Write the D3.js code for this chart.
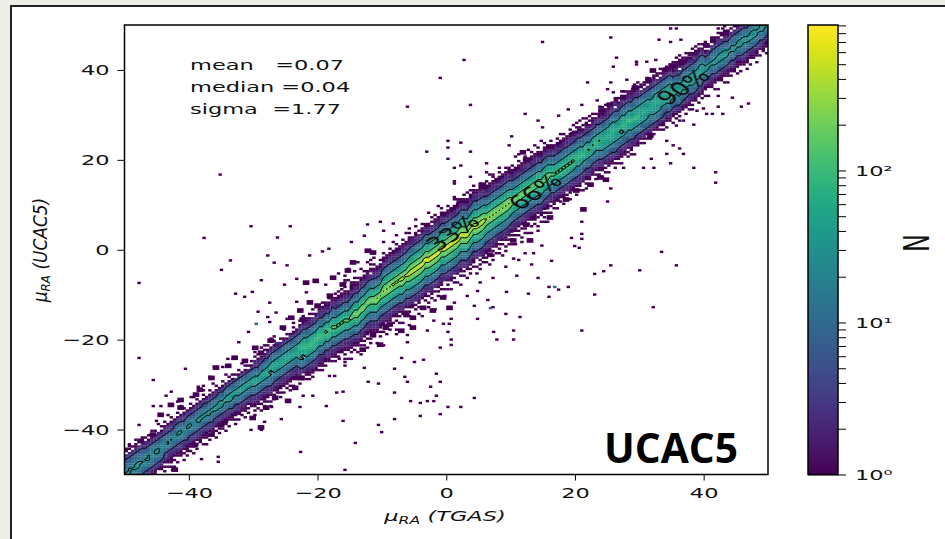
<!DOCTYPE html>
<html>
<head>
<meta charset="utf-8">
<script src="https://cdn.jsdelivr.net/npm/d3@7"></script>
<style>
  html, body { margin: 0; padding: 0; background: #efeee6; }
  svg { display: block; }
  text { font-family: "DejaVu Sans", sans-serif; fill: #111; white-space: pre; }
</style>
</head>
<body>
<script>
// histogram levels, one char per cell: '.' is empty, the rest index into levelCounts
var levelChars = '123456789abcdefg';
var levelCounts = [1, 2, 3, 5, 8, 12, 18, 27, 40, 60, 90, 130, 200, 300, 450, 700];

// one string per 0.5 wide column starting at x = -50. Middle char sits on y = x, each char is 0.5 in y
var bandColumns = [
  // x -50
  "1.1234456778877654432.11.", ".11234556678887655432.1.1",
  "1.1123455677877665432.1..", ".1122345667888765543211.1",
  "..1223445678887654432.1..", "1.1123445667877655432.11.",
  "...123345677877654322.1..", ".1.112345678887654321.1..",
  "...112345677777654321..1.", "1..112344567887654321.1..",
  ".1..12345678887654322...1", "...112345667777654321.1..",
  // x -44
  "..1.1.12334566776543321.1..", "...1.112334578876543321...1",
  "..1.1112334567876543321.1..", ".1..1.12334567776544321....",
  "..1..112334567887654331.1..", "....1112334567887654321...1",
  ".1..1.12334567776543321.1..", "..1.1112344567887654331....",
  "...1.112334567887654321.1..", ".1..1112334567776544321...1",
  "..1.1.12334567887654331.1..", "....1112334568887654321....",
  "..1..112334567887654431.1.1", ".1..1112334567887654321....",
  "..1.1.12334568887654331.1..", "....1112344567887654321...1",
  ".1..1.12334578887654321.1..", "..1.1112334568898765431....",
  "...1.112334578887654331.1..", ".1..1112334567898765431...1",
  "..1..112334568898765431.1..", "....1112345678898765431.1..",
  ".1.1.11233456789876543.1...", "..1..122345678898765431.1..",
  "...1.112345678898765431...1", ".1..1122345678998765431.1..",
  "..1.1.1234567899876543.1...", "....1122345678898765431.1..",
  // x -30
  ".1.1.112234567899987654322.1.1.", "...1.112234567899876543221.1...",
  ".1..1.12234567899987654321...1.", "..1.1112234567899987654421.1.1.",
  "...1.11223456789a9876543221.1..", ".1.1..1223455678 9a987654321...1",
  "..1.1.12234567899a987654331.1.1", "....1112234567899a987654322....",
  ".1.1.112234567899a98765432.1...", "..1..11223456789a9887654321...1",
  "...1.11223456789a988765431.1...", ".1.1.11223456789a9887654331....",
  "..1..11223456789a9887654321.1.1", "....111223456789a9887654321....",
  ".1.1122345678999aa9876543221.1.", "..11.2345678 9aabaa9876543211.1",
  ".1.1123456789aabaa98765433211..", "1.11223456789aabba9876543221.1.",
  ".1.11223456789aabba987654322 1.1", "..11223456789aabba9876543221..1",
  ".1.11223456789abbba98765432211.", "1.11223456789aabba98765433221.1",
  ".1.11223456789abcba98765432211.", "..11223456789abbba98765432211.1",
  ".1.11223456789abcba98765443211.", "1.11223456789abcba98765432211.1",
  ".1.1223456789abcba98765433211.1", "..11223456789abcba98765432211.1",
  // x -16
  "1..1.1.11223456789abcba98765432211.1..1.1", "..1...11223456789abcba98765433211....1...",
  ".1..1.11223456789abccba98765432211.1....", "....1.11223456789abcdcba98765432211.1..1",
  "..1..11223456789abcdcba98765432211.1....", "1...1.11223456789abcdcba98765432211...1.",
  "...1.1.1223456789abcdcba98765433211.1...", ".1...1.11223456789abcdcba98765432211...1.",
  "..1.1..11223456789abcdcba98765432 21.1...", "....1.11223456789abcdcba98765532211.1..1",
  "1....11223456789abcdecba98765432211.....", "..1.1.11223456789abcecba98765433211.1...",
  // x -10
  "...1..11223456789abcdedcba98765432211.1..", ".1...1.1223456789abcdedcba98765432211....",
  "..1.1.11223456789abcdedcba98765433211.1..", "....1..1223456789abcdfdcba98765432211...1",
  "1...1.11223456789abcdfdcba98765432211.1..", "..1..1.1223456789abcdfdcba98765432211....",
  ".1...11223456789abcdefdcba98765433211.1..", "...1.1.1223456789abcdfdcba98765432211...1",
  // x -6
  "..1.1.1223456789abcdefedcba98765432211.1.", "1....11223456789abcdefedcba9876543221....",
  "...1.1.223456789abcdefedcba98765432211..1", ".1..1.11223456789abcdefedcba987654322 1...",
  "..1...1223456789abcdegedcba98765433211.1.", "....1.11223456789abcdegedcba98765432211..",
  "1.1..1.223456789abcdegedcba98765432211...", "...1.11223456789abcdegedcba987654332 1.1.",
  ".1...1.223456789abcdegedcba98765432211.1.", "..1.1.1223456789abcdegedcba98765432211...",
  "....1.11223456789abcdegedcba98765432211.1", "1..1...223456789abcdegedcba98765433211...",
  "..1.1.1223456789abcdegedcba98765432211.1.", ".1...11223456789abcdegedcba98765432211...",
  "...1.1.223456789abcdegedcba98765432211..1", "..1...1223456789abcdegedcba98765433211.1.",
  "1...1.11223456789abcdefedcba98765432211..", "...1.1.223456789abcdefedcba98765433211.1.",
  ".1...1223456789abcdefedcba98765432211....", "..1.1.1223456789abcdefedcba98765432211.1.",
  "....1.11223456789abcdefedcba98765432211.1", "1..1...223456789abcdefedcba98765432211...",
  ".1.1.1.223456789abcdefedcba98765433211.1.", "...1.11223456789abcdefedcba98765432211...",
  // x 6
  "..1.1.11223456789abcdedcba98765432211.1..", "1.....11223456789abcdedcba98765433211...1",
  ".1.1.1.1223456789abcdedcba98765432211.1..", "...1..11223456789abcdedcba98765432211....",
  "..1.1.1.223456789abcdedcba98765433211.1.1", "1....1.1223456789abcdedcba98765432211....",
  ".1.1..11223456789abcdedcba98765432211.1..", "...1.1.1223456789abcdedcba98765432211....",
  // x 10
  "..1.1.1.1223456789abcdcba98765432211.1...", ".1...1.11223456789abcdcba98765433211....1",
  "....1.1.1223456789abcdcba98765432211.1..1", "1.1...1.1223456789abcdcba98765432211.....",
  "...1.1.11223456789abcdcba98765432211.1...", "..1...1.1223456789abcdcba98765433211...1.",
  ".1..1..11223456789abcccba98765432211.1...", "....1.1.1223456789abcccba98765432211...1.",
  "1.1...1.1223456789abcccba98765433211.1...", "...1..11223456789abcccba98765432211....1",
  "..1.1.1.1223456789abcccba98765432211.1...", ".1...1.11223456789abcccba98765432211.....",
  // x 16
  "1..1.1223456789abcba98765432211.1", ".1.11223456789abcba98765433211...",
  "1...1223456789abcba98765432211.1.", "..1.1223456789abcba98765432211..1",
  "1..11223456789abcba98765532211.1.", ".1.1.223456789abcba98765432211...",
  "1..11223456789abcba98765433211.1.", "...11223456789abcba98765432211..1",
  "1.1.12234556789abaa9876544321.1.1", ".1.112234567899abaa987654322 1..1",
  "1...12234556789aba9876544321.1..1", ".1.112234567899aba98765432211.1",
  "1..112234556789aca9876544321.1.1", "...112234567899aca98765432211.1",
  "1.1.12234556789aba9876544321.1.", ".1.112234567899aca98765433211..",
  // x 24
  "1..1122345678899aa998765432211.1", ".1.1.12345678899aa998765432211.1",
  "1..1122345678899aa998765432211..", "...1122345678899aaa998765432211.",
  "1.1.123455678899aa998765543 2211.", ".1.1122345678899aa99876543221 1..",
  "1..11223456789 9aba998765432211.1", "...112234567899aba998765443211.1",
  "1.1.12345567899aba998765432211.", ".1.112234567899aba998765432211..",
  "1...12344567899aba998765543211.1", "...112234567899aba998765432211.1",
  // x 30
  ".1.12345678899a9988765432 11.", "1.122345678899a9988765432 11.",
  ".1.12345678899a9988765432 1.1", "1.122345567889a998765543211.",
  ".1.12345678899a9988765433211", "..112345678899a9988765432 11.",
  ".1.12345678899a9988765432 1.1", "1.112344567889a9988765432111.",
  "1..112345678899a998765432111", "..112345678899a9988765432111.",
  // x 35
  "1..11234567889988765432111.1", ".1.122345677889887654322111.1",
  "1.1.1234567889988765433 2111.1", "..112345677889887654321111.",
  "1..11234567889988765432111.1", ".1.112334567889887654322 11.",
  "1.1.1234567889988765432 11.1", "...11234567889988765433211.1",
  "1..1123456788998876543211.1", ".1.112344567889887654321 1.",
  // x 40
  "..1..112345678887654321 1.1..", ".1...11234567888765432 1....",
  "....1112334567887765432 1.1..", "..1..1123456788876554321 1...",
  ".1...11234567889876543321 1.1", "....1112345678888765432 11...",
  "..1..1123456789887654321 1.1.", ".1..1112345678887654321 1...",
  "..1.112334567888765432 1.1.", "....1122345678987655432 11...",
  ".1..1112345678887654321.1..", "..1..1123456789887654332 11..",
  "....1122345567888765432 11.1.", ".1..1112345678887654321 1...",
  "..1..1123456789887654321 1.1.", "....1122345678888765432 11...",
  ".1..1112345678887655432 11.1.", "..1..1233456788876543211...",
  "....1112345678887654321 1.1.", ".1..11123456789876543211..1"
].map(function (s) { return s.replace(/ /g, '.'); });

// isolated single count bins away from the band, [x, y]
var outliers = [
  [-35.4,16.5],[-37.9,2.4],[-30.6,5],[-24.5,5],[-26.5,2.5],[-33.8,-2.6],[-28,-1.5],[-27,-3.1],[-25,-3.7],[-21.5,-1.5],
  [-19.5,-0.6],[-18.5,0],[-15,1.5],[-13,2.9],[-12.5,5.4],[-10.5,6],[-8.5,5.6],[-10,4],[14.7,46],[2.5,42],
  [-1.2,38],[-6.3,31.6],[3.5,32],[25.3,47],[34.6,49],[35.5,49],[42.7,49],[32.8,46.5],[34.6,46],[36.2,46.5],
  [26.2,42.5],[25.7,40.5],[29.3,41.6],[29.3,41],[30.9,41.6],[32.3,42],[21.7,37],[25.3,37],[27.8,37.6],[24.8,35.5],
  [25.7,34.8],[27.3,35],[28.7,35.5],[30,36],[23.2,33],[26.2,33],[23.6,31.6],[20.8,32],[18.7,31],[17.2,29.6],
  [12,30],[14,28.5],[14.7,27],[9.9,25],[9.5,23],[0,24],[2,23.6],[0,22.5],[-3.3,21.6],[3.5,21.6],
  [0,20],[2,18.5],[1,18],[6,19],[6,17],[9.5,18],[9.5,17],[1,15],[1,14.5],[3.5,16],
  [46.7,32.3],[45.6,31.6],[44.2,33.6],[42,34],[42,31.6],[42.7,30],[41.1,30],[40.2,30],[38.7,30.7],[39.7,31.2],
  [38.2,27.6],[36.6,28.5],[35.5,27.4],[34,24],[35,23],[36,22.3],[36.6,21.1],[34,21.1],[38.2,18],[34.6,19],
  [41.6,17],[41.6,14.7],[32,18],[30.4,18],[31.6,20],[27.3,18],[24.8,10.5],[25.3,13.4],[21.5,13.4],[33.2,-0.7],
  [35.5,-3.7],[25.3,-3.7],[20.8,6],[20.8,3.3],[20.8,2.2],[19.2,2.4],[20.4,0.2],[19.7,0.6],[16.1,-2.7],[12,-1],
  [13.3,-1],[14.6,0.7],[10.2,-2.2],[10.7,-6],[9.1,-9.6],[15.7,-8.5],[17.2,-9.1],[18.7,-8.5],[15.7,-10.7],[22.8,-10.2],
  [22.8,-5.6],[24.2,-5],[29.8,-4.8],[31.9,-13],[20.8,-18.2],[11.2,-15.2],[10.2,-18.2],[7.1,-18.5],[7.6,-20.2],[10.2,-20.2],
  [6.2,-11.4],[4.6,-15.6],[4.1,-12.7],[4.6,-9.4],[0.5,-20.2],[0.5,-21.4],[-1.2,-22],[0,-18.5],[-0.7,-16.7],[0.2,-16.7],
  [0.5,-15.6],[-2.2,-16],[-3.2,-18.2],[-6.3,-19.2],[-6.3,-20.8],[-7.2,-24.3],[-5.2,-25.2],[-3.8,-24.7],[-8.3,-26.7],[-6.7,-28.5],
  [-6.3,-29.6],[-1.8,-27.8],[-1.2,-29.6],[-2.7,-30.7],[-8.3,-32],[-1.8,-32.7],[-5.8,-33.9],[-4.3,-34.3],[-3.2,-33.9],[-2.2,-33.9],
  [4.1,-33.2],[0,-35.2],[2,-35.2],[-1.2,-36.8],[-4.3,-37.2],[-8.3,-37.9],[-10.3,-40.8],[-48,-7.6],[-35.2,-4.7],[-33,-10],
  [-31.6,-10.7],[-30.4,-9.6],[-29,-7],[-25.4,-8],[-23.5,-6.7],[-22,-9.7],[-23.5,-11.8],[-27.7,-12],[-29.5,-14],[-26.7,-14.2],
  [-28,-15.2],[-27.7,-16.3],[-25,-15.6],[-31,-18.5],[-32.5,-20.8],[-48,-24.3],[-40.8,-26.7],[-45.8,-29.2],[-34.2,-24.5],[-33.4,-24.5],
  [-36.3,-26.3],[-35,-26.3],[-12.4,-29.6],[-10.8,-30],[-17.3,-32],[-16.3,-31.8],[-18.9,-35],[-16.3,-38.3],[-10.8,-39.2],[-14.4,-43.2],
  [-22.9,-45.2],[-16,-49.2],[-35.7,-46.3],[-35.7,-47.4],[-38.3,-46.8],[-42.8,-49.2],[-25.9,-37.9],[-28.5,-38.5],[-30.6,-40.3],[-29,-40.3],
  [-27.4,-35.2],[-23,-35.2],[-21,-32.7],[-22.5,-32.7],[-18.4,-28.3],[-17.6,-28.3],[-13,-26.5],[-16,-25.2],[-16.9,-24.5],[-45.8,-35],
  [-44.6,-35],[-43.8,-32.7],[-43,-31.8],[-42,-34],[-48,-39.2],[-45.3,-38.3],[-49.5,-43.9],[-38.8,-30.7],[-38,-30.5],[-39.9,-33],
  [-37,-28.5],[-19,-8],[-17,-5.5],[-15.5,-4.5],[-14,-3],[-12,-2.5],[-16,-7.5],[7,-13],[9,-14.5],[12.5,-10],[14,-6.5],
  [-12,-0.5],[-10,1.5],[-8,3],[-6,4.5],[-5,6.5],[-3,8],[-1.5,9.5],[1,11.5],[3,12.5],[5,14],[7,16.5],[8,15],
  [-6,-17],[-4,-15],[-2,-13.5],[1,-12],[3,-10.5],[5,-7.5],[7,-6.5],[9,-4],[11,-2.5],[13,-3.5],[-8,-19],[-10,-21.5]
];
var blueOutliers = [[16.6,-8.5],[6.6,-13.2],[-29.8,-16.7]];

// purple clumps hugging the band, one unit wide, [x, y]
var fringeClumps = [
  [-12.7,-0.7],[-11.9,-1.1],[-15,-3.3],[-15.8,-5.1],[-18.1,-6.7],[-20.8,-7.4],[-22.3,-7.8],[-16.6,-8.2],[-15,-8.5],[-18.6,-10.7],
  [-21.7,-12.2],[-20.5,-12.9],[-19.2,-13.4],[-23.2,-14],[-24.6,-15.6],[-22.8,-16],[-25.9,-17.8],[-26.7,-21.6],
  [-9.3,-17.1],[-6.7,-14.9],[-5.7,-15.6],[-4.1,-13.4],[-2.6,-14],[-1,-11.1],[0,-13.4],[-7.5,-18.5],[-11.9,-19.4],[-14.5,-20.7],
  [-10.8,-21.6],[-17,-22.9],[-19.7,-24.5],[-13.5,-22.7],[-9.9,-17.8],[-5.7,-17.8],
  [11.4,21.2],[11.9,19.6],[10.7,17.4],[9.9,16.3],[11.1,17.1],[7.5,14.9],[6,12.7],[5.2,14],[3.7,10.7],[2.6,10],
  [1.6,10],[0.5,8.2],[-0.7,7.3],[15.6,22.3],[14,20.5],[17.2,22.7],[19.2,25.2],[20.3,26],[21.2,25.2],[13,18.3],
  [11.9,5.1],[13,6.7],[14.5,8.9],[15.6,6.7],[16.6,10.7],[18.1,10.7],[19.7,12.7],[20.8,8.5],[21.9,14],[23.4,15.6],
  [24.3,15.1],[9.9,1.6],[7.8,2.2],[6.3,-1.6],[5.2,-0.7],[9.4,3.8],[12.5,1.6],
  [34.8,40.5],[35.5,40.8],[36.3,41.2],[33.7,39.6],[37.4,41.9],[38.3,43],[39.9,45],[31.6,39.4],[30.9,37.4],[28.8,35.6],
  [27,33.4],[24.9,31.8],[23.6,30.5],[41,46.3],[43,47.9],
  [31.2,24.9],[33.5,30.5],[34.8,31.6],[27.4,24.1],[29,24.5],[25.4,21.6],[36.3,33],[37.9,34],[32.7,27.8],[30.1,27.2],
  [42.2,40],[44.6,41.6],[46.7,43.9],
  [-37,-29],[-36.3,-26.7],[-34.4,-26.3],[-33.4,-24.5],[-31.8,-25.2],[-30.2,-22.3],[-29.3,-23.4],[-27.8,-20.7],[-39.4,-32.7],[-38.8,-31.6],
  [-41.8,-33.9],[-43.3,-35],[-44.9,-37.2],[-46.1,-41.6],[-48,-43],[-41.8,-35.6],
  [-35.5,-39.4],[-34.9,-38.5],[-32.9,-36.7],[-30.6,-37.9],[-29.3,-40],[-28.5,-35.6],[-27.1,-33.4],[-24,-31.2],[-23.1,-29],[-25.1,-34.1],
  [-37,-41.6],[-39.6,-43.9],[-41,-43.9],[-43.3,-46.1],[-42.7,-49.4]
];

// contour levels in counts, and the colorbar ticks
var contourLevels = [4.5, 24, 100, 280];
var axisTicks = [-40, -20, 0, 20, 40];
var colorDomain = [1, 905];
var cbMajor = [1, 10, 100];
var cbMajorLabels = ['10\u2070', '10\u00b9', '10\u00b2'];
var cbMinor = [2,3,4,5,6,7,8,9,20,30,40,50,60,70,80,90,200,300,400,500,600,700,800,900];
var statLines = ['mean   =0.07', 'median =0.04', 'sigma  =1.77'];
var contourLabels = [
  {label: '33%', x: 1, y: 3.8},
  {label: '66%', x: 13.8, y: 12.9},
  {label: '90%', x: 36.8, y: 36.3}
];

var W = 945, H = 539;
var sx = 1.55; // the source image is stretched sideways, so the text is too

var svg = d3.select('body').append('svg').attr('width', W).attr('height', H);

// page frame
svg.append('rect').attr('x', 11).attr('y', 6).attr('width', W).attr('height', H)
  .attr('fill', '#fff').attr('stroke', '#222').attr('stroke-width', 2);

var xScale = d3.scaleLinear().domain([-50, 50]).range([124.5, 768]);
var yScale = d3.scaleLinear().domain([-50, 50]).range([474.5, 25]);
var color = d3.scaleSequentialLog(d3.interpolateViridis).domain(colorDomain);

svg.append('clipPath').attr('id', 'plot').append('rect')
  .attr('x', 124.5).attr('y', 25).attr('width', 643.5).attr('height', 449.5);

// turn the columns into cells
var cells = [];
fringeClumps.forEach(function (d) { cells.push({x: d[0], y: d[1], n: 1, size: 1, lone: true}); });
outliers.forEach(function (d) { cells.push({x: d[0], y: d[1], n: 1, size: 0.5, lone: true}); });
blueOutliers.forEach(function (d) { cells.push({x: d[0], y: d[1], n: 10, size: 0.5, lone: true}); });
bandColumns.forEach(function (s, i) {
  var x = -50 + i * 0.5, mid = Math.floor(s.length / 2);
  for (var k = 0; k < s.length; k++) {
    var lv = levelChars.indexOf(s[k]);
    if (lv >= 0) cells.push({x: x, y: x + (k - mid) * 0.5, n: levelCounts[lv], size: 0.5});
  }
});

var defs = svg.append('defs');
defs.append('filter').attr('id', 'soft').append('feGaussianBlur').attr('stdDeviation', 0.45);

var plot = svg.append('g').attr('clip-path', 'url(#plot)');

plot.append('g').attr('filter', 'url(#soft)').selectAll('rect')
  .data(cells)
  .enter()
  .append('rect')
  .attr('x', function (d) { return xScale(d.x); })
  .attr('y', function (d) { return yScale(d.y + d.size); })
  .attr('width', function (d) { return xScale(d.size) - xScale(0) + 0.2; })
  .attr('height', function (d) { return yScale(0) - yScale(d.size) + 0.2; })
  .attr('fill', function (d) { return color(d.n); });

// contours come from the same grid
var grid = new Array(200 * 200).fill(0);
cells.forEach(function (d) {
  if (d.lone) return;
  var i = Math.round((d.x + 50) * 2), j = Math.round((d.y + 50) * 2);
  if (i >= 0 && i < 200 && j >= 0 && j < 200) grid[j * 200 + i] = Math.log10(d.n) + 0.001;
});
var contourGen = d3.contours().size([200, 200]).thresholds(contourLevels.map(Math.log10));
var toPlot = d3.geoTransform({
  point: function (px, py) {
    this.stream.point(xScale(-50 + px / 2), yScale(-50 + py / 2));
  }
});
plot.append('g').selectAll('path')
  .data(contourGen(grid))
  .enter()
  .append('path')
  .attr('d', d3.geoPath(toPlot))
  .attr('fill', 'none')
  .attr('stroke', '#000')
  .attr('stroke-width', 1);

// contour labels, rotated then stretched along with the picture
plot.selectAll('.clabel')
  .data(contourLabels)
  .enter()
  .append('text')
  .attr('class', 'clabel')
  .attr('transform', function (d) {
    return 'translate(' + xScale(d.x) + ',' + yScale(d.y) + ') scale(1.45,1) rotate(-44)';
  })
  .attr('text-anchor', 'middle')
  .attr('dy', '0.36em')
  .attr('font-size', 19)
  .text(function (d) { return d.label; });

// axes
function stretchTicks(g, xOffset) {
  g.selectAll('text')
    .attr('x', xOffset === undefined ? 0 : xOffset / sx)
    .attr('transform', 'scale(' + sx + ',1)')
    .attr('font-size', 14.5)
    .style('font-family', '"DejaVu Sans", sans-serif')
    .style('fill', '#111');
}

var xAxis = d3.axisBottom(xScale).tickValues(axisTicks).tickSize(6).tickPadding(7).tickFormat(d3.format('d'));
var yAxis = d3.axisLeft(yScale).tickValues(axisTicks).tickSize(7).tickFormat(d3.format('d'));

svg.append('g').attr('transform', 'translate(0,474.5)').call(xAxis)
  .call(function (g) { stretchTicks(g); g.select('.domain').remove(); });
svg.append('g').attr('transform', 'translate(124.5,0)').call(yAxis)
  .call(function (g) { stretchTicks(g, -15); g.select('.domain').remove(); });

svg.append('rect').attr('x', 124.5).attr('y', 25).attr('width', 643.5).attr('height', 449.5)
  .attr('fill', 'none').attr('stroke', '#000').attr('stroke-width', 1.5);

// axis titles
function mathLabel(sel, name, size) {
  sel.attr('text-anchor', 'middle').attr('font-size', size).attr('font-style', 'italic');
  sel.append('tspan').text('\u03bc');
  sel.append('tspan').attr('font-size', size * 0.7).attr('dy', 2.5).text('RA');
  sel.append('tspan').attr('dy', -2.5).text(' (' + name + ')');
}
svg.append('text').attr('transform', 'translate(445,521) scale(' + sx + ',1)').call(mathLabel, 'TGAS', 14.5);
svg.append('text').attr('transform', 'translate(47,250) scale(1.1,1) rotate(-90)').call(mathLabel, 'UCAC5', 17);

// stats block
svg.selectAll('.stat')
  .data(statLines)
  .enter()
  .append('text')
  .attr('class', 'stat')
  .attr('transform', function (d, i) { return 'translate(190,' + (69.5 + i * 22) + ') scale(' + sx + ',1)'; })
  .attr('font-size', 14.5)
  .text(function (d) { return d; });

svg.append('text')
  .attr('x', 671).attr('y', 463)
  .attr('text-anchor', 'middle')
  .attr('font-size', 42)
  .attr('font-weight', 700)
  .style('font-family', '"Open Sans", sans-serif')
  .style('fill', '#000')
  .attr('textLength', 134)
  .attr('lengthAdjust', 'spacingAndGlyphs')
  .text('UCAC5');

// colorbar
var cbScale = d3.scaleLog().domain(colorDomain).range([474.5, 25]);
var cbRows = d3.range(25, 474.5, 1);
svg.append('g').selectAll('rect')
  .data(cbRows)
  .enter()
  .append('rect')
  .attr('x', 808).attr('width', 30)
  .attr('y', function (d) { return d; })
  .attr('height', 1.5)
  .attr('fill', function (d) { return color(cbScale.invert(d + 0.5)); });
svg.append('rect').attr('x', 808).attr('y', 25).attr('width', 30).attr('height', 449.5)
  .attr('fill', 'none').attr('stroke', '#000').attr('stroke-width', 1.5);

var cbAxis = d3.axisRight(cbScale)
  .tickValues(cbMajor.concat(cbMinor))
  .tickSize(8)
  .tickFormat(function (d) {
    var i = cbMajor.indexOf(d);
    return i < 0 ? '' : cbMajorLabels[i];
  });
svg.append('g').attr('transform', 'translate(838,0)').call(cbAxis)
  .call(function (g) {
    g.select('.domain').remove();
    stretchTicks(g, 17);
    g.selectAll('text').attr('text-anchor', 'start');
  });

svg.append('text')
  .attr('transform', 'translate(916,243) scale(1.45,1) rotate(-90)')
  .attr('text-anchor', 'middle')
  .attr('dy', '0.36em')
  .attr('font-size', 24)
  .text('N');
</script>
</body>
</html>
